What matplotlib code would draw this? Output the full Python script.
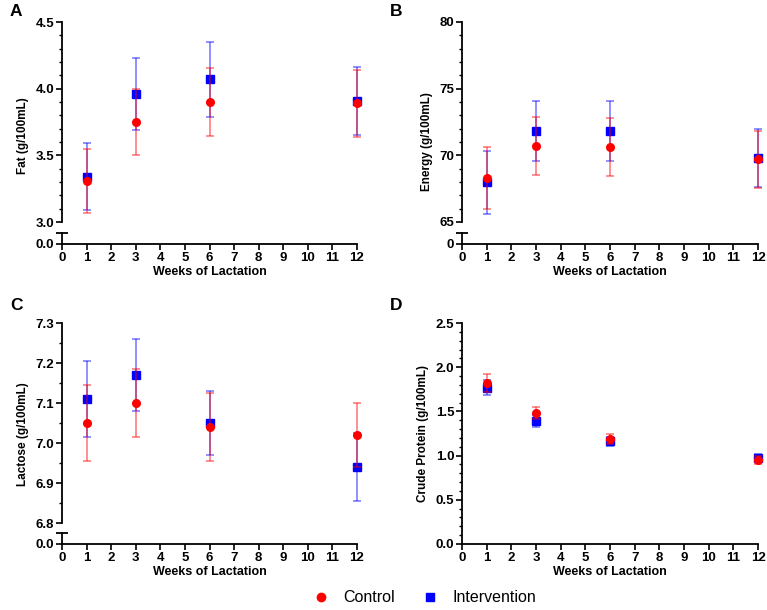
import matplotlib
matplotlib.use("Agg")
import matplotlib.pyplot as plt
from matplotlib.ticker import MultipleLocator, FixedLocator
from matplotlib.lines import Line2D

plt.rcParams['font.family'] = ['Liberation Sans', 'DejaVu Sans']

weeks = [1, 3, 6, 12]

fat_control = [3.31, 3.75, 3.90, 3.89]
fat_control_sd = [0.24, 0.25, 0.255, 0.25]
fat_interv = [3.34, 3.96, 4.07, 3.91]
fat_interv_sd = [0.25, 0.27, 0.28, 0.255]

energy_control = [68.3, 70.7, 70.62, 69.7]
energy_control_sd = [2.33, 2.2, 2.2, 2.15]
energy_interv = [67.97, 71.8, 71.85, 69.8]
energy_interv_sd = [2.36, 2.25, 2.25, 2.15]

lactose_control = [7.05, 7.10, 7.04, 7.02]
lactose_control_sd = [0.095, 0.085, 0.085, 0.08]
lactose_interv = [7.11, 7.17, 7.05, 6.94]
lactose_interv_sd = [0.095, 0.09, 0.08, 0.085]

protein_control = [1.82, 1.48, 1.19, 0.95]
protein_control_sd = [0.10, 0.07, 0.055, 0.05]
protein_interv = [1.77, 1.39, 1.16, 0.97]
protein_interv_sd = [0.09, 0.07, 0.05, 0.045]

xticks = list(range(0, 13))
RED = '#FF0000'
BLUE = '#0000FF'

W, H = 767, 610
fig = plt.figure(figsize=(W / 100, H / 100), dpi=100)


def px_rect(left, top, right, bottom):
    return [left / W, 1 - bottom / H, (right - left) / W, (bottom - top) / H]


def style_axis(ax):
    for s in ['top', 'right']:
        ax.spines[s].set_visible(False)
    for s in ['left', 'bottom']:
        ax.spines[s].set_linewidth(1.3)
    ax.tick_params(axis='both', which='major', direction='out', length=4,
                   width=1.2, labelsize=9.5, pad=1.5)
    ax.tick_params(axis='y', which='minor', direction='out', length=2.2, width=1.0)
    for lbl in ax.get_xticklabels() + ax.get_yticklabels():
        lbl.set_fontweight('bold')


def draw_series(ax, c, csd, iv, isd):
    ax.errorbar(weeks, iv, yerr=isd, fmt='none', ecolor=BLUE, alpha=0.55,
                elinewidth=1.1, capsize=3, capthick=1.1, clip_on=False, zorder=3)
    ax.plot(weeks, iv, 's', color=BLUE, markersize=5.5, clip_on=False, zorder=4)
    ax.errorbar(weeks, c, yerr=csd, fmt='none', ecolor=RED, alpha=0.55,
                elinewidth=1.1, capsize=3, capthick=1.1, clip_on=False, zorder=5)
    ax.plot(weeks, c, 'o', color=RED, markersize=5.5, clip_on=False, zorder=6)


def x_axis(ax):
    ax.set_xlim(0, 12)
    ax.set_xticks(xticks)
    ax.set_xticklabels([str(t) for t in xticks])
    ax.set_xlabel('Weeks of Lactation', fontsize=9, fontweight='bold')


def broken_panel(left, right, top, bottom, lower_top, lower_bottom,
                 c, csd, iv, isd, ylim, yticks, ylabels, minor, zero_label,
                 ylabel, label_coords, xlabel_y):
    ax = fig.add_axes(px_rect(left, top, right, bottom))
    draw_series(ax, c, csd, iv, isd)
    ax.set_xlim(0, 12)
    ax.set_ylim(*ylim)
    ax.set_yticks(yticks)
    ax.set_yticklabels(ylabels)
    ax.yaxis.set_minor_locator(MultipleLocator(minor))
    ax.tick_params(axis='x', which='both', bottom=False, labelbottom=False)
    style_axis(ax)
    ax.spines['bottom'].set_visible(False)
    ax.set_ylabel(ylabel, fontsize=8.5, fontweight='bold')
    ax.yaxis.set_label_coords(*label_coords)

    axl = fig.add_axes(px_rect(left, lower_top, right, lower_bottom))
    axl.set_ylim(0, 1)
    axl.set_yticks([0])
    axl.set_yticklabels([zero_label])
    axl.yaxis.set_minor_locator(FixedLocator([1]))
    x_axis(axl)
    style_axis(axl)
    axl.tick_params(axis='y', which='minor', direction='inout', length=8, width=1.3)
    axl.xaxis.set_label_coords(0.5, (lower_bottom - xlabel_y) / (lower_bottom - lower_top))
    axl.patch.set_alpha(0)
    return ax, axl


# Panel A
broken_panel(62, 357, 22, 222, 233, 244,
             fat_control, fat_control_sd, fat_interv, fat_interv_sd,
             (3.0, 4.5), [3.0, 3.5, 4.0, 4.5], ['3.0', '3.5', '4.0', '4.5'], 0.1, '0.0',
             'Fat (g/100mL)', (-0.112, 0.43), 266)

# Panel B
broken_panel(462, 758, 22, 222, 233, 244,
             energy_control, energy_control_sd, energy_interv, energy_interv_sd,
             (65, 80), [65, 70, 75, 80], ['65', '70', '75', '80'], 1, '0',
             'Energy (g/100mL)', (-0.098, 0.40), 266)

# Panel C
broken_panel(62, 357, 323, 523, 533, 544,
             lactose_control, lactose_control_sd, lactose_interv, lactose_interv_sd,
             (6.8, 7.3), [6.8, 6.9, 7.0, 7.1, 7.2, 7.3],
             ['6.8', '6.9', '7.0', '7.1', '7.2', '7.3'], 0.05, '0.0',
             'Lactose (g/100mL)', (-0.112, 0.445), 566)

# Panel D
axd = fig.add_axes(px_rect(462, 323, 758, 544))
draw_series(axd, protein_control, protein_control_sd, protein_interv, protein_interv_sd)
axd.set_ylim(0, 2.5)
axd.set_yticks([0.0, 0.5, 1.0, 1.5, 2.0, 2.5])
axd.set_yticklabels(['0.0', '0.5', '1.0', '1.5', '2.0', '2.5'])
axd.yaxis.set_minor_locator(MultipleLocator(0.1))
x_axis(axd)
style_axis(axd)
axd.set_ylabel('Crude Protein (g/100mL)', fontsize=8.5, fontweight='bold')
axd.yaxis.set_label_coords(-0.111, 0.5)
axd.xaxis.set_label_coords(0.5, (544 - 566) / 221)

# Panel letters
for letter, (px, py) in zip('ABCD', [(10, 12), (390, 12), (10, 305), (390, 305)]):
    fig.text(px / W, 1 - py / H, letter, fontsize=12.5, fontweight='bold',
             ha='left', va='center')

# Legend
handles = [
    Line2D([], [], marker='o', linestyle='none', color=RED, markersize=6, label='Control'),
    Line2D([], [], marker='s', linestyle='none', color=BLUE, markersize=5.5, label='Intervention'),
]
fig.legend(handles=handles, loc='center', bbox_to_anchor=(424 / W, 1 - 598 / H),
           ncol=2, frameon=False, fontsize=11.5, handletextpad=0.8,
           columnspacing=1.6, handlelength=1.2)

fig.savefig('out.png', dpi=100)
